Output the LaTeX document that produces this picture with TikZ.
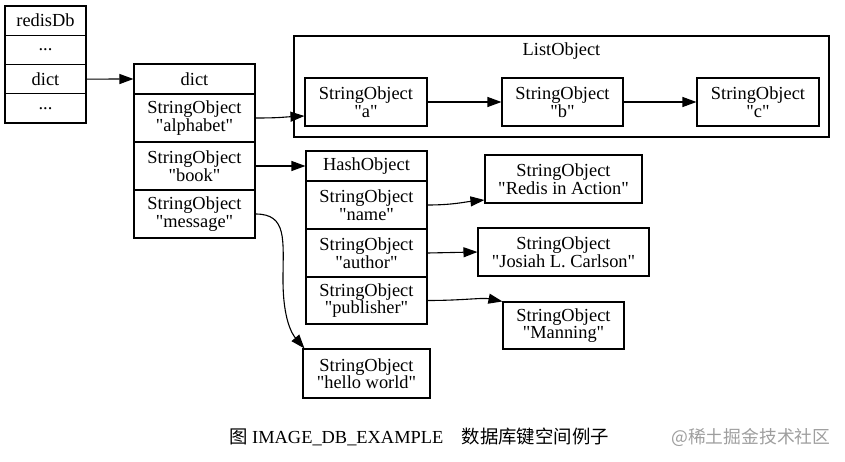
\documentclass[tikz,border=0pt]{standalone}
\usepackage{fontspec}
\setmainfont{Liberation Serif}[Ligatures=TeXOff]
\newfontfamily\cjk{Noto Sans CJK SC}
\usetikzlibrary{arrows.meta}
\begin{document}
\begin{tikzpicture}[x=1pt,y=-1pt,
  cell/.style={draw,line width=1.1pt,inner sep=0pt,align=center,font=\fontsize{18.4}{17.5}\selectfont},
  edge/.style={line width=1.1pt,-{Triangle[length=14pt,width=10pt]}}]
\useasboundingbox (0,0) rectangle (845,462);
% redisDb
\node[cell,minimum width=81pt,minimum height=29.25pt] (r0) at (45.5,20.6) {redisDb};
\node[cell,minimum width=81pt,minimum height=29.25pt] (r1) at (45.5,49.9) {...};
\node[cell,minimum width=81pt,minimum height=29.25pt] (r2) at (45.5,79.1) {dict};
\node[cell,minimum width=81pt,minimum height=29.25pt] (r3) at (45.5,108.4) {...};
% dict
\node[cell,minimum width=121pt,minimum height=30pt] (d0) at (194.5,79) {dict};
\node[cell,minimum width=121pt,minimum height=48pt] (d1) at (194.5,118) {StringObject\\ "alphabet"};
\node[cell,minimum width=121pt,minimum height=48pt] (d2) at (194.5,166) {StringObject\\ "book"};
\node[cell,minimum width=121pt,minimum height=48pt] (d3) at (194.5,214) {StringObject\\ "message"};
% ListObject cluster
\node[draw,line width=1.1pt,minimum width=535pt,minimum height=101pt,inner sep=0pt] (lst) at (561.5,86.5) {};
\node[font=\fontsize{18.4}{17.5}\selectfont,inner sep=0pt] (lstl) at (561.5,51) {ListObject};
\node[cell,minimum width=122pt,minimum height=48pt] (la) at (366,102) {StringObject\\"a"};
\node[cell,minimum width=121pt,minimum height=48pt] (lb) at (562.5,102) {StringObject\\"b"};
\node[cell,minimum width=122pt,minimum height=48pt] (lc) at (758,102) {StringObject\\"c"};
% HashObject
\node[cell,minimum width=121pt,minimum height=30pt] (h0) at (366.5,166) {HashObject};
\node[cell,minimum width=121pt,minimum height=48pt] (h1) at (366.5,205) {StringObject\\ "name"};
\node[cell,minimum width=121pt,minimum height=48pt] (h2) at (366.5,253) {StringObject\\ "author"};
\node[cell,minimum width=121pt,minimum height=47pt] (h3) at (366.5,300.5) {StringObject\\ "publisher"};
% values
\node[cell,minimum width=157pt,minimum height=48pt] (v1) at (563.5,179) {StringObject\\ "Redis in Action"};
\node[cell,minimum width=171pt,minimum height=48pt] (v2) at (563.5,252) {StringObject\\ "Josiah L. Carlson"};
\node[cell,minimum width=121pt,minimum height=47pt] (v3) at (563.5,325.5) {StringObject\\ "Manning"};
\node[cell,minimum width=127pt,minimum height=49pt] (hw) at (366.5,373.5) {StringObject\\ "hello world"};
% edges
\draw[edge] (r2.east) -- (d0.west);
\draw[edge] (d1.east) .. controls +(25,0) and +(-20,1) .. ([yshift=-14pt]la.west);
\draw[edge] (la.east) -- (lb.west);
\draw[edge] (lb.east) -- (lc.west);
\draw[edge] (d2.east) -- (h0.west);
\draw[edge] (d3.east) .. controls +(32,0) and +(0,-40) .. (283,280) .. controls +(0,40) and +(-12,-14) .. ([xshift=2pt]hw.north west);
\draw[edge] (h1.east) .. controls +(25,0) and +(-20,2) .. ([yshift=-21pt]v1.west);
\draw[edge] (h2.east) -- (v2.west);
\draw[edge] (h3.east) .. controls +(35,0) and +(-20,-4) .. ([xshift=0pt]v3.north west);
% caption
\node[anchor=west,inner sep=0pt,font=\fontsize{18.4}{20}\selectfont] (cap) at (229,437) {{\cjk 图} IMAGE\_DB\_EXAMPLE{\cjk 　数据库键空间例子}};
\node[anchor=west,inner sep=0pt,text=black!38,font=\fontsize{17.8}{20}\selectfont] (wm) at (671,437) {{\cjk @稀土掘金技术社区}};
\end{tikzpicture}
\end{document}
